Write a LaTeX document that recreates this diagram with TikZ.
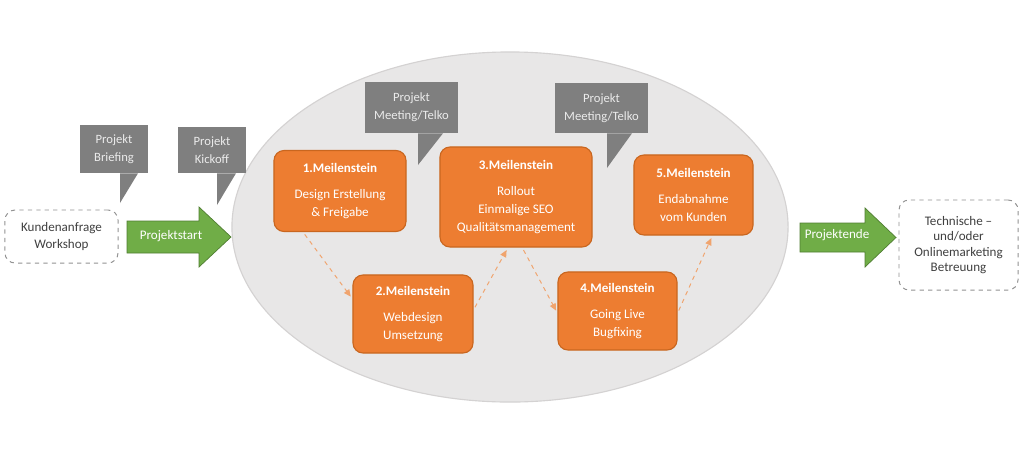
\documentclass[tikz,border=0pt]{standalone}
\usepackage{fontspec}
\setmainfont{Carlito}
\usetikzlibrary{arrows.meta}

\definecolor{msorange}{HTML}{ED7D31}
\definecolor{msorangedark}{HTML}{C9661F}
\definecolor{dashorange}{HTML}{F0A46E}
\definecolor{msgray}{HTML}{7F7F7F}
\definecolor{msgreen}{HTML}{70AD47}
\definecolor{msgreendark}{HTML}{507E32}
\definecolor{ovalgray}{HTML}{E8E7E7}
\definecolor{ovalline}{HTML}{D4D2D2}

\begin{document}
\begin{tikzpicture}[x=0.025cm, y=-0.025cm,
  milestone/.style={draw=msorangedark, line width=0.8pt, fill=msorange, rounded corners=0.25cm, text=white, align=center, inner sep=2pt, font=\fontsize{9.3pt}{13pt}\selectfont},
  bubble/.style={fill=msgray, text=white!92!black, align=center, inner sep=2pt, font=\fontsize{9pt}{12.8pt}\selectfont},
  plainbox/.style={draw=gray!85, dashed, line width=0.7pt, rounded corners=0.25cm, align=center, text=black!75, inner sep=2pt},
  bigarrow/.style={fill=msgreen, draw=msgreendark, line width=0.5pt},
  arrowtext/.style={text=white, inner sep=1pt, font=\fontsize{9.3pt}{12pt}\selectfont},
  flow/.style={draw=dashorange, dashed, line width=0.7pt, shorten <=2pt, shorten >=2pt, -{Triangle[length=5pt,width=4.5pt]}}
]

\useasboundingbox[fill=white] (0,0) rectangle (1024,449);

\draw[fill=ovalgray, draw=ovalline, line width=0.8pt] (510,227) ellipse [x radius=6.95cm, y radius=4.375cm];

\node[bubble, minimum width=1.7cm, minimum height=1.2cm] (brief) at (114,149) {Projekt\\Briefing};
\coordinate (brieftip) at (120,203);
\fill[msgray] (brief.south -| brieftip) -- ++(18,0) -- (brieftip) -- cycle;

\node[bubble, minimum width=1.7cm, minimum height=1.15cm] (kickoff) at (212,150) {Projekt\\Kickoff};
\coordinate (kickofftip) at (217,205);
\fill[msgray] (kickoff.south -| kickofftip) -- ++(19,0) -- (kickofftip) -- cycle;

\node[bubble, minimum width=2.325cm, minimum height=1.275cm] (meetA) at (411.5,107.5) {Projekt\\Meeting/Telko};
\coordinate (meetAtip) at (418,165);
\fill[msgray] (meetA.south -| meetAtip) -- ++(25,0) -- (meetAtip) -- cycle;

\node[bubble, minimum width=2.325cm, minimum height=1.25cm] (meetB) at (601.5,108) {Projekt\\Meeting/Telko};
\coordinate (meetBtip) at (607,168);
\fill[msgray] (meetB.south -| meetBtip) -- ++(25,0) -- (meetBtip) -- cycle;

\node[milestone, minimum width=3.3cm, minimum height=2.025cm] (m1) at (340,191) {\textbf{1.Meilenstein}\\[5.5pt]Design Erstellung\\\& Freigabe};
\node[milestone, minimum width=3.0cm, minimum height=1.95cm] (m2) at (413,314) {\textbf{2.Meilenstein}\\[5.5pt]Webdesign\\Umsetzung};
\node[milestone, minimum width=3.8cm, minimum height=2.5cm] (m3) at (516,197) {\textbf{3.Meilenstein}\\[5.5pt]Rollout\\Einmalige SEO\\Qualitätsmanagement};
\node[milestone, minimum width=2.975cm, minimum height=1.95cm] (m4) at (617.5,311) {\textbf{4.Meilenstein}\\[5.5pt]Going Live\\Bugfixing};
\node[milestone, minimum width=2.975cm, minimum height=2.0cm] (m5) at (693.5,195) {\textbf{5.Meilenstein}\\[5.5pt]Endabnahme\\vom Kunden};

\draw[flow] (m1.228) -- (m2.166);
\draw[flow] (m2.4) -- (m3.261);
\draw[flow] (m3.277) -- (m4.182);
\draw[flow] (m4.358) -- (m5.295);

\node[plainbox, minimum width=2.825cm, minimum height=1.325cm, font=\fontsize{9.3pt}{12pt}\selectfont] (request) at (61.5,236.5) {Kundenanfrage\\Workshop};
\node[plainbox, minimum width=2.975cm, minimum height=2.25cm, font=\fontsize{9.3pt}{11pt}\selectfont] (support) at (958.5,245) {Technische –\\und/oder\\Onlinemarketing\\Betreuung};

\draw[bigarrow] (127,221) -- (199,221) -- (199,207) -- (231,237) -- (199,267) -- (199,253) -- (127,253) -- cycle;
\node[arrowtext] (start) at (171,236) {Projektstart};

\draw[bigarrow] (800,223) -- (865,223) -- (865,208) -- (896,237.5) -- (865,267) -- (865,252) -- (800,252) -- cycle;
\node[arrowtext] (finish) at (837,235) {Projektende};

\end{tikzpicture}
\end{document}
